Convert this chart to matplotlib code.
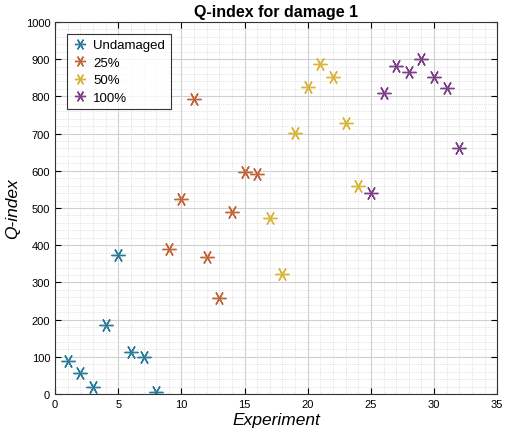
import matplotlib
matplotlib.use("Agg")
import matplotlib.pyplot as plt
from matplotlib.ticker import MultipleLocator

plt.rcParams["font.family"] = ["Liberation Sans", "DejaVu Sans"]

experiments_undamaged = [1, 2, 3, 4, 5, 6, 7, 8]
q_undamaged = [89, 57, 20, 186, 374, 113, 99, 5]
experiments_25 = [9, 10, 11, 12, 13, 14, 15, 16]
q_25 = [390, 523, 793, 368, 258, 489, 596, 592]
experiments_50 = [17, 18, 19, 20, 21, 22, 23, 24]
q_50 = [473, 322, 702, 824, 886, 853, 727, 560]
experiments_100 = [25, 26, 27, 28, 29, 30, 31, 32]
q_100 = [540, 810, 882, 866, 901, 853, 823, 662]

labels = ["Undamaged", "25%", "50%", "100%"]
colors = ["#2a7b9b", "#c0643a", "#d9b43a", "#7a3f86"]

fig = plt.figure(figsize=(5.1, 4.39), dpi=100)
ax = fig.add_axes([0.108, 0.1, 0.867, 0.848])

series = [(experiments_undamaged, q_undamaged), (experiments_25, q_25),
          (experiments_50, q_50), (experiments_100, q_100)]
for (x, y), lab, c in zip(series, labels, colors):
    ax.plot(x, y, linestyle="none", marker=(6, 2, 90), markersize=10,
            markeredgewidth=1.0, color=c, label=lab)

ax.set_xlim(0, 35)
ax.set_ylim(0, 1000)
ax.xaxis.set_major_locator(MultipleLocator(5))
ax.xaxis.set_minor_locator(MultipleLocator(1))
ax.yaxis.set_major_locator(MultipleLocator(100))
ax.yaxis.set_minor_locator(MultipleLocator(20))
ax.grid(which="major", color="#d0d0d0", linewidth=0.8)
ax.grid(which="minor", color="#cccccc", linewidth=0.5, linestyle=":")
ax.set_axisbelow(True)
ax.tick_params(which="both", direction="in", top=True, right=True, labelsize=8)
ax.tick_params(which="minor", length=0)
ax.tick_params(which="major", length=4)
for s in ax.spines.values():
    s.set_color("#333333")
    s.set_linewidth(0.8)

ax.set_title("Q-index for damage 1", fontsize=11.5, fontweight="bold", pad=4)
ax.set_xlabel("Experiment", fontsize=12.5, style="italic", labelpad=2)
ax.set_ylabel("Q-index", fontsize=12.5, style="italic", labelpad=4)

leg = ax.legend(loc="upper left", bbox_to_anchor=(0.027, 0.968), borderaxespad=0,
                fontsize=9.5, frameon=True, fancybox=False, edgecolor="black",
                handletextpad=0.4, borderpad=0.4, labelspacing=0.4,
                handlelength=1.2, markerscale=0.8)
leg.get_frame().set_linewidth(0.8)

fig.savefig("out.png", dpi=100)
